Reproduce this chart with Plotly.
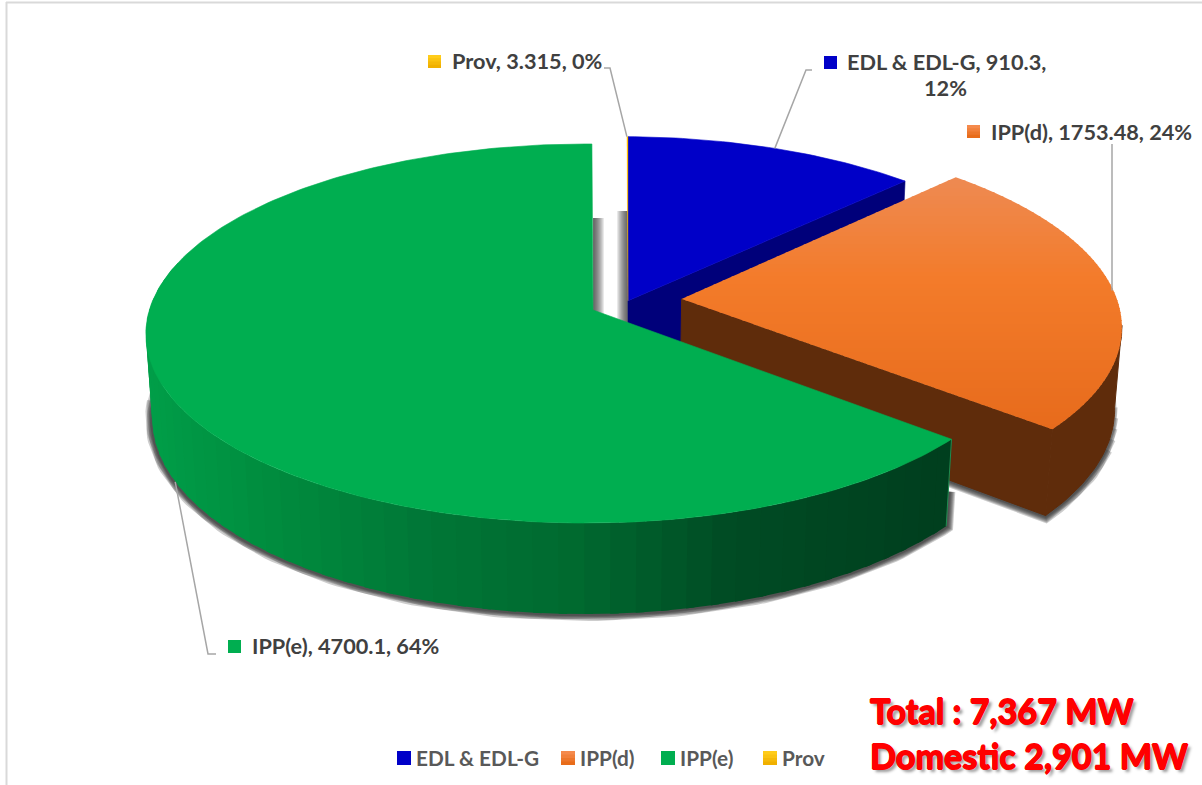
import math
import plotly.graph_objects as go

# ---- data ----
categories = ["EDL & EDL-G", "IPP(d)", "IPP(e)", "Prov"]
values = [910.3, 1753.48, 4700.1, 3.315]
percent_labels = ["12%", "24%", "64%", "0%"]
total_text = "Total : 7,367 MW"
domestic_text = "Domestic 2,901 MW"

# ---- styling ----
TOP_COL = ["#0000C8", "#F37A2A", "#00AE50", "#FFC000"]
WALL_COL = ["#00007A", "#5F2C0B", "#004A22", "#8A6A00"]
# plane offset x, plane offset y, screen shift x, radius
EXPLODE = [(0.0, 0.05, 35.0, 1.0), (0.205, 0.06, 0.0, 1.025), (0.0, 0.0, 0.0, 1.0), (0.0, 0.05, 35.0, 1.0)]
CX, CY, A, B, C, D, H, E = 593.0, 310.0, 437.0, 186.6, 0.124, 0.015, 84.0, 0.014
FONT = "Lato"
LABEL_SIZE = 21.7
LEGEND_SIZE = 20.8
RED_SIZE = 34.2


def project(theta_deg, r, off, z=0.0):
    t = math.radians(theta_deg)
    X = r * off[3] * math.sin(t) + off[0]
    Y = r * off[3] * math.cos(t) + off[1]
    w = 1 + C * Y + D * X + E * z
    return CX + off[2] + A * X / w, CY + (-B * Y + H * z) / w


def arc(a0, a1, off, z=0.0, step=1.0):
    n = max(2, int(abs(a1 - a0) / step) + 1)
    return [project(a0 + (a1 - a0) * i / (n - 1), 1.0, off, z) for i in range(n)]


def hex2rgb(h):
    return tuple(int(h[i:i + 2], 16) for i in (1, 3, 5))


def ramp(stops, v):
    if v <= stops[0][0]:
        return stops[0][1]
    for (p0, c0), (p1, c1) in zip(stops, stops[1:]):
        if v <= p1:
            f = (v - p0) / (p1 - p0)
            a, b = hex2rgb(c0), hex2rgb(c1)
            return "#%02X%02X%02X" % tuple(round(a[i] + (b[i] - a[i]) * f) for i in range(3))
    return stops[-1][1]


def clip_band(poly, y0, y1):
    def clip(pts, keep, cross):
        out = []
        for i, p in enumerate(pts):
            q = pts[(i + 1) % len(pts)]
            if keep(p):
                out.append(p)
            if keep(p) != keep(q):
                out.append(cross(p, q))
        return out

    def at(y):
        return lambda p, q: (p[0] + (q[0] - p[0]) * (y - p[1]) / (q[1] - p[1]), y)

    pts = clip(poly, lambda p: p[1] >= y0, at(y0))
    return clip(pts, lambda p: p[1] <= y1, at(y1)) if pts else []


fig = go.Figure()


def poly(pts, color, name=None, line=0.6):
    xs = [p[0] for p in pts] + [pts[0][0]]
    ys = [p[1] for p in pts] + [pts[0][1]]
    fig.add_trace(go.Scatter(x=xs, y=ys, mode="lines", fill="toself", fillcolor=color,
                             line=dict(color=color, width=line), hoverinfo="skip",
                             showlegend=False, name=name or ""))


def stroke(pts, width, color="rgba(40,40,40,0.23)"):
    fig.add_trace(go.Scatter(x=[p[0] for p in pts], y=[p[1] for p in pts], mode="lines",
                             line=dict(color=color, width=width), hoverinfo="skip",
                             showlegend=False))


# ---- slice angles from the values ----
total = sum(values)
angles = []
acc = 0.0
for v in values:
    angles.append((acc, acc + v / total * 360))
    acc += v / total * 360
(blue0, blue1), (or0, or1), (gr0, gr1), (pr0, pr1) = angles

# ---- soft shadows under the walls, tapered at their open ends ----
for i, width in enumerate((14, 12, 10, 8, 6, 4)):
    stroke(arc(110 - 3 * i, or1, EXPLODE[1], 1) + [project(or1, 0.45, EXPLODE[1], 1)], width)
    stroke([project(gr0, 1, EXPLODE[2], 0.6)] + arc(gr0, 268 + 3 * i, EXPLODE[2], 1), width)

# ---- blue slice and the Prov sliver ----
apex = project(0, 0, EXPLODE[0])
apex_low = project(0, 0, EXPLODE[0], 1)
poly([apex, project(blue1, 1, EXPLODE[0]), project(blue1, 1, EXPLODE[0], 1), apex_low], WALL_COL[0])
poly([apex] + arc(blue0, blue1, EXPLODE[0]), TOP_COL[0], categories[0])
poly([project(0, 0, EXPLODE[3])] + arc(pr0, pr1, EXPLODE[3]), TOP_COL[3], categories[3], line=0.3)

# ---- orange slice ----
apex = project(0, 0, EXPLODE[1])
apex_low = project(0, 0, EXPLODE[1], 1)
poly([apex, project(or1, 1, EXPLODE[1]), project(or1, 1, EXPLODE[1], 1), apex_low], WALL_COL[1], line=1.0)
poly(arc(98, or1, EXPLODE[1]) + arc(or1, 98, EXPLODE[1], 1), WALL_COL[1], line=1.0)
top = [apex] + arc(or0, or1, EXPLODE[1])
orange_stops = [(178, "#EE8A52"), (280, "#F37B2A"), (430, "#E76B1C")]
y = 172
while y < 436:
    band = clip_band(top, y, y + 5)
    if len(band) > 2:
        poly(band, ramp(orange_stops, y + 2), categories[1], line=0)
    y += 4

# ---- green slice with its stepped wall gradient ----
green_stops = [(150, "#009E48"), (300, "#008A3D"), (450, "#007636"), (600, "#00692F"),
               (745, "#004C24"), (950, "#003F1E")]
a = 285.0
while a > gr0:
    b = max(a - 3.0, gr0)
    far = min(a + 1.0, 285.0)   # strips overlap so no seams appear between them
    p = [project(b, 1, EXPLODE[2]), project(far, 1, EXPLODE[2]),
         project(far, 1, EXPLODE[2], 1), project(b, 1, EXPLODE[2], 1)]
    poly(p, ramp(green_stops, p[0][0]), line=0)
    a = b
end_line = [project(gr0, 1, EXPLODE[2]), project(gr0, 1, EXPLODE[2], 1)]
stroke(end_line, 1, color="#1E8C50")
poly([project(0, 0, EXPLODE[2])] + arc(gr0, gr1, EXPLODE[2]), TOP_COL[2], categories[2])

# ---- decorations: frame, gap shadows, leaders, swatches ----
shapes = [
    dict(type="line", x0=6.5, x1=6.5, y0=2, y1=785, line=dict(color="#D9D9D9", width=2)),
    dict(type="line", x0=6, x1=1202, y0=2.5, y1=2.5, line=dict(color="#D9D9D9", width=2)),
]
gx0 = project(0, 0, EXPLODE[2])[0]
gx1 = project(0, 0, EXPLODE[0])[0]
for w in (11, 10, 9, 8, 7, 6, 5, 4, 3, 2):
    shapes.append(dict(type="rect", layer="below", x0=gx0, x1=gx0 + w, y0=218, y1=325,
                       fillcolor="rgba(40,40,40,0.1)", line=dict(width=0)))
    shapes.append(dict(type="rect", layer="below", x0=gx1 - w, x1=gx1, y0=211, y1=325,
                       fillcolor="rgba(40,40,40,0.1)", line=dict(width=0)))

mid = [(s + e) / 2 for s, e in angles]
rim = [project(mid[0], 1, EXPLODE[0]), project(mid[1], 1, EXPLODE[1]),
       project(mid[2], 1, EXPLODE[2], 1), project(pr0, 1, EXPLODE[3])]
elbows = [[(806, 70), (812, 70)], [(1112, 144)], [(208, 654), (216, 654)], [(610, 68), (604, 68)]]
for r, e in zip(rim, elbows):
    x = 1112 if len(e) == 1 else r[0]
    path = "M %.1f %.1f " % (x, r[1]) + " ".join("L %.1f %.1f" % q for q in e)
    shapes.append(dict(type="path", path=path, line=dict(color="#A6A6A6", width=1.5)))


def swatch(x, y, size, c0, c1=None):
    c1 = c1 or c0
    for i in range(4):
        shapes.append(dict(type="rect", x0=x, x1=x + size, y0=y + size * i / 4, y1=y + size,
                           fillcolor=ramp([(0, c0), (3, c1)], i), line=dict(width=0)))


SWATCH = [("#0000C8", None), ("#F58A4C", "#E86C1A"), ("#00AE50", None), ("#FFCC1A", "#F0B000")]
label_swatch_pos = [(824, 56), (967, 125), (228, 640), (428, 55)]
legend_swatch_pos = [(397, 751), (561, 751), (661, 751), (763, 751)]
for (x, y), (c0, c1) in zip(label_swatch_pos, SWATCH):
    swatch(x, y, 13, c0, c1)
for (x, y), (c0, c1) in zip(legend_swatch_pos, SWATCH):
    swatch(x, y, 14, c0, c1)

# ---- text ----
def fmt(i):
    return "%s, %s, %s" % (categories[i], format(values[i], "g") if i != 3 else "3.315", percent_labels[i])


annots = []


def text(x, y, s, size, color, anchor="left", shadow=None, family=FONT):
    f = dict(family=family, size=size, color=color, weight="bold")
    if shadow:
        f["shadow"] = shadow
    annots.append(dict(x=x, y=y, text=s, showarrow=False, xanchor=anchor, yanchor="middle",
                       font=f, xref="x", yref="y"))


text(845, 62, "%s, %s," % (categories[0], format(values[0], "g")), LABEL_SIZE, "#404040")
text(945, 88, percent_labels[0], LABEL_SIZE, "#404040", anchor="center")
text(989, 132, "%s, %s, %s" % (categories[1], format(values[1], "g"), percent_labels[1]), LABEL_SIZE, "#404040")
text(250, 646, fmt(2), LABEL_SIZE, "#404040")
text(450, 61, fmt(3), LABEL_SIZE, "#404040")
for x, name in zip((414, 578, 678, 780), categories):
    text(x, 757, name, LEGEND_SIZE, "#595959")
RED_SHADOW = "0.7px 0 0 #FF0000, -0.7px 0 0 #FF0000, 0 0.7px 0 #FF0000, 0 -0.7px 0 #FF0000, 3px 3px 3px #999999"
text(868, 710, total_text, RED_SIZE, "#FF0000", shadow=RED_SHADOW)
text(868, 755, domestic_text, RED_SIZE, "#FF0000", shadow=RED_SHADOW)

fig.update_layout(
    width=1202, height=785, autosize=False, margin=dict(l=0, r=0, t=0, b=0),
    paper_bgcolor="white", plot_bgcolor="white", showlegend=False,
    xaxis=dict(range=[0, 1202], visible=False, fixedrange=True),
    yaxis=dict(range=[785, 0], visible=False, fixedrange=True),
    shapes=shapes, annotations=annots,
)
fig.write_html("out.html", config=dict(displayModeBar=False),
               post_script="document.body.style.margin='0';document.body.style.overflow='hidden';")
